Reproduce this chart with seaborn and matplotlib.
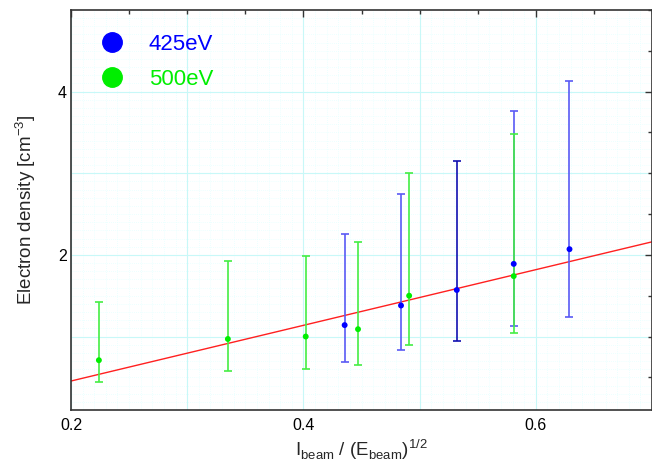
import numpy as np
import pandas as pd
import matplotlib
matplotlib.use("Agg")
import matplotlib.pyplot as plt
from matplotlib.ticker import MultipleLocator
from matplotlib.lines import Line2D
import seaborn as sns

# ---- data ----
x_425 = [0.4355, 0.484, 0.532, 0.581, 0.629]
y_425 = [1.14, 1.38, 1.57, 1.89, 2.07]
lo_425 = [0.69, 0.83, 0.94, 1.13, 1.24]
hi_425 = [2.26, 2.75, 3.15, 3.76, 4.13]

x_500 = [0.224, 0.335, 0.402, 0.447, 0.491, 0.581]
y_500 = [0.71, 0.97, 1.00, 1.09, 1.50, 1.74]
lo_500 = [0.44, 0.58, 0.60, 0.65, 0.90, 1.04]
hi_500 = [1.42, 1.93, 1.99, 2.16, 3.00, 3.48]

fit_x = [0.2, 0.7]
fit_y = [0.455, 2.16]

labels = ["425eV", "500eV"]
colors = ["#0000ff", "#00ee00"]

sns.set_theme(style="white")
plt.rcParams["font.family"] = ["Liberation Sans", "DejaVu Sans"]

fig = plt.figure(figsize=(6.52, 4.63), dpi=100)
ax = fig.add_axes([71 / 652, 1 - 410 / 463, 581 / 652, 400 / 463])

# grid
ax.xaxis.set_major_locator(MultipleLocator(0.2))
ax.xaxis.set_minor_locator(MultipleLocator(0.05))
ax.yaxis.set_major_locator(MultipleLocator(2))
ax.yaxis.set_minor_locator(MultipleLocator(0.5))
for v in np.arange(0.2, 0.701, 0.01):
    ax.axvline(v, color="#e6ffff", lw=0.6, ls=(0, (1, 1.5)), zorder=0)
for v in np.arange(0.1, 5.0, 0.1):
    ax.axhline(v, color="#e6ffff", lw=0.6, ls=(0, (1, 1.5)), zorder=0)
for v in np.arange(0.2, 0.701, 0.1):
    ax.axvline(v, color="#c8f8f8", lw=0.8, zorder=0.5)
for v in range(1, 5):
    ax.axhline(v, color="#c8f8f8", lw=0.8, zorder=0.5)

# fit line
sns.lineplot(x=fit_x, y=fit_y, ax=ax, color="#ff2020", lw=1.0, zorder=2)

# error bars
bar_425 = ["#5a5af5", "#5a5af5", "#1010b0", "#5a5af5", "#5a5af5"]
for xi, yi, lo, hi, c in zip(x_425, y_425, lo_425, hi_425, bar_425):
    ax.errorbar([xi], [yi], yerr=[[yi - lo], [hi - yi]], fmt="none",
                ecolor=c, elinewidth=1.2, capsize=3, capthick=1.2, zorder=3)
for xi, yi, lo, hi in zip(x_500, y_500, lo_500, hi_500):
    ax.errorbar([xi], [yi], yerr=[[yi - lo], [hi - yi]], fmt="none",
                ecolor="#44ee44", elinewidth=1.2, capsize=3, capthick=1.2, zorder=3)

df = pd.concat([
    pd.DataFrame({"x": x_425, "y": y_425, "series": labels[0]}),
    pd.DataFrame({"x": x_500, "y": y_500, "series": labels[1]}),
])
sns.scatterplot(data=df, x="x", y="y", hue="series",
                palette=dict(zip(labels, colors)), s=18, linewidth=0,
                ax=ax, zorder=4, legend=False)

ax.set_xlim(0.2, 0.7)
ax.set_ylim(0.1, 5.0)
ax.set_xticks([0.2, 0.4, 0.6])
ax.set_xticklabels(["0.2", "0.4", "0.6"])
ax.set_yticks([2, 4])
ax.set_yticklabels(["2", "4"])
ax.tick_params(which="both", direction="in", top=True, right=True,
               colors="#333333", labelcolor="black", labelsize=11.5)
ax.tick_params(which="major", length=5, width=1)
ax.tick_params(which="minor", length=3, width=1)
ax.tick_params(axis="y", pad=3)
ax.tick_params(axis="x", pad=6)
for s in ax.spines.values():
    s.set_color("#333333")
    s.set_linewidth(1.2)

ax.set_xlabel(r"I$_{\mathregular{beam}}$ / (E$_{\mathregular{beam}}$)$^{\mathregular{1/2}}$",
              fontsize=13.5, labelpad=3)
ax.set_ylabel(r"Electron density [cm$^{\mathregular{-3}}$]", fontsize=13.5, labelpad=14)

handles = [Line2D([], [], ls="none", marker="o", markersize=14, color=c) for c in colors]
leg = ax.legend(handles, labels, loc="upper left", bbox_to_anchor=(0.052, 0.94),
                frameon=False, fontsize=16, handlelength=1.0, handletextpad=1.15,
                labelspacing=0.64, borderaxespad=0, borderpad=0)
for t, c in zip(leg.get_texts(), colors):
    t.set_color(c)

fig.savefig("out.png", dpi=100)
